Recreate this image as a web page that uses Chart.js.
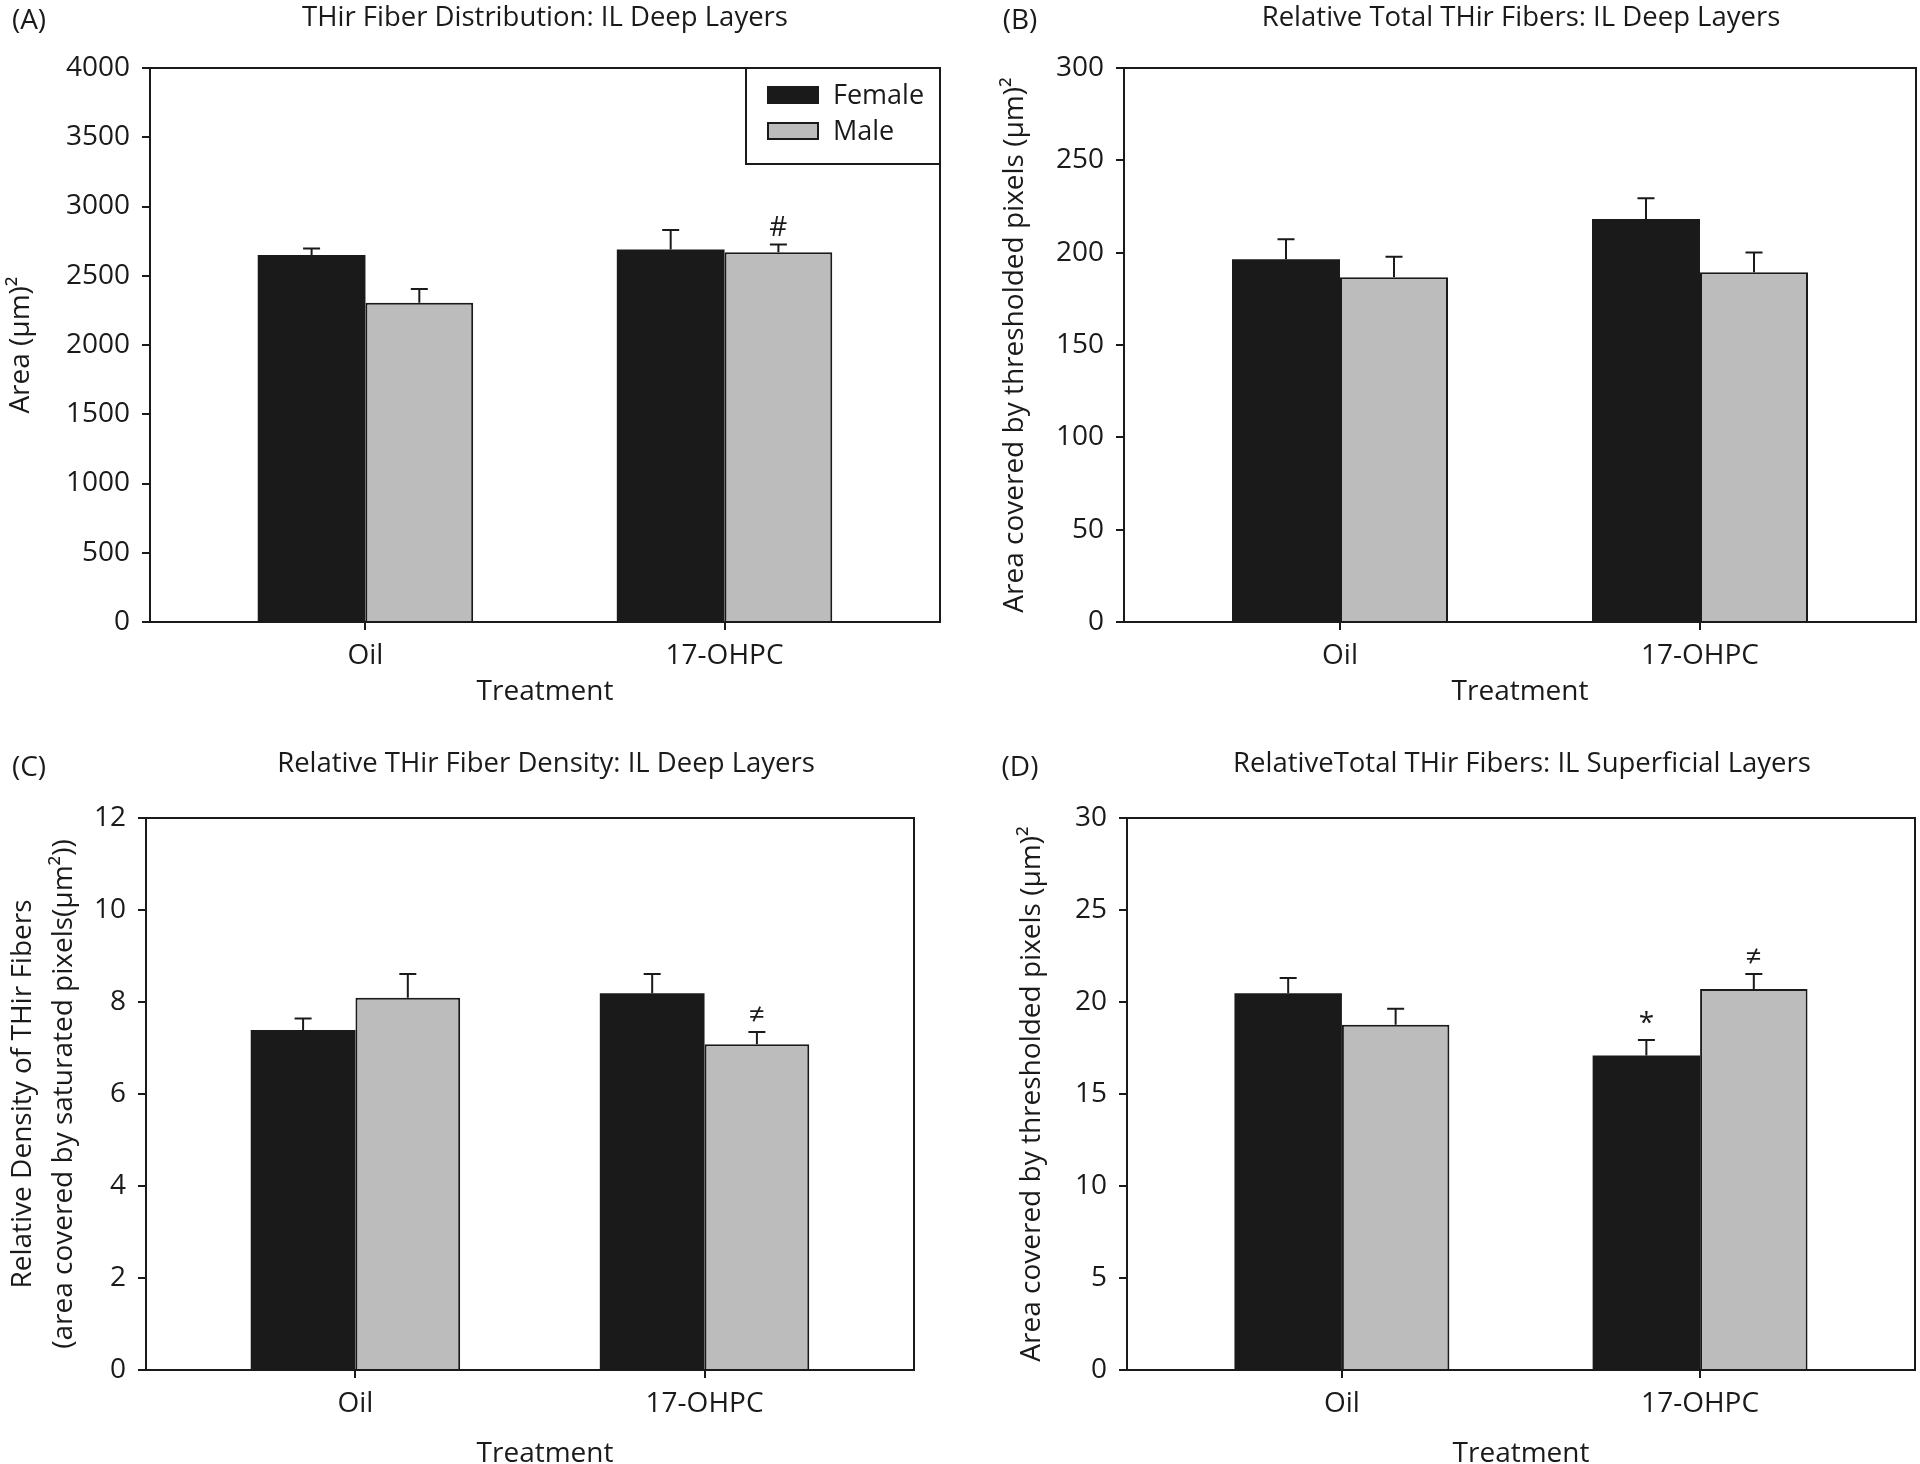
<!DOCTYPE html>
<html>
<head>
<meta charset="utf-8">
<title>THir fibers: IL layers</title>
<script src="https://cdn.jsdelivr.net/npm/chart.js@4.4.1/dist/chart.umd.min.js"></script>
<style>
  html, body { margin: 0; padding: 0; background: #fff; }
  body { width: 1920px; height: 1464px; position: relative; overflow: hidden; }
  canvas { position: absolute; }
  #chartA { left: 0; top: 0; }
  #chartB { left: 960px; top: 0; }
  #chartC { left: 0; top: 730px; }
  #chartD { left: 960px; top: 730px; }
</style>
</head>
<body>
<canvas id="chartA" width="960" height="730"></canvas>
<canvas id="chartB" width="960" height="730"></canvas>
<canvas id="chartC" width="960" height="760"></canvas>
<canvas id="chartD" width="960" height="760"></canvas>
<script>
// --- data (mean, SEM) ---
const treatments = ['Oil', '17-OHPC'];
const groups = ['Female', 'Male'];

// (A) THir fiber distribution, IL deep layers
const distFemale = [2650, 2690];
const distFemaleErr = [47, 140];
const distMale = [2305, 2670];
const distMaleErr = [100, 56];
const distTicks = [0, 500, 1000, 1500, 2000, 2500, 3000, 3500, 4000];

// (B) relative total THir fibers, IL deep layers
const deepFemale = [196.5, 218.2];
const deepFemaleErr = [10.7, 11.2];
const deepMale = [186.7, 189.4];
const deepMaleErr = [11.1, 10.7];
const deepTicks = [0, 50, 100, 150, 200, 250, 300];

// (C) relative THir fiber density, IL deep layers
const densFemale = [7.39, 8.19];
const densFemaleErr = [0.25, 0.42];
const densMale = [8.09, 7.08];
const densMaleErr = [0.52, 0.27];
const densTicks = [0, 2, 4, 6, 8, 10, 12];

// (D) relative total THir fibers, IL superficial layers
const supFemale = [20.47, 17.09];
const supFemaleErr = [0.84, 0.85];
const supMale = [18.77, 20.70];
const supMaleErr = [0.86, 0.82];
const supTicks = [0, 5, 10, 15, 20, 25, 30];

// significance marks above bars
const distMarks = [['', ''], ['', '#']];
const deepMarks = [['', ''], ['', '']];
const densMarks = [['', ''], ['', '\u2260']];
const supMarks = [['', '*'], ['', '\u2260']];

const INK = '#1a1a1a';
const FEMALE_FILL = '#1a1a1a';
const MALE_FILL = '#bcbcbc';
const FONT = '"Open Sans", "DejaVu Sans", sans-serif';

// error bars, frame, panel letter, title, marks and (optional) legend
const panelDecor = {
  id: 'panelDecor',
  afterDatasetsDraw(chart, args, opts) {
    const ctx = chart.ctx;
    const yScale = chart.scales.y;
    const a = chart.chartArea;
    ctx.save();
    ctx.strokeStyle = INK;
    ctx.fillStyle = INK;
    ctx.lineWidth = 2;

    chart.data.datasets.forEach((ds, di) => {
      const meta = chart.getDatasetMeta(di);
      meta.data.forEach((bar, i) => {
        const top = yScale.getPixelForValue(ds.data[i].y + opts.errors[di][i]);
        ctx.beginPath();
        ctx.moveTo(bar.x, bar.y);
        ctx.lineTo(bar.x, top);
        ctx.moveTo(bar.x - 8.5, top);
        ctx.lineTo(bar.x + 8.5, top);
        ctx.stroke();
        const mark = opts.marks[di][i];
        if (mark) {
          ctx.font = '28px ' + FONT;
          ctx.textAlign = 'center';
          ctx.textBaseline = 'bottom';
          ctx.fillText(mark, bar.x, top - 2);
        }
      });
    });

    // frame around the plot
    ctx.strokeRect(a.left, a.top, a.right - a.left, a.bottom - a.top);

    // legend box in the top right corner
    if (opts.legend) {
      ctx.strokeRect(a.right - 194, a.top, 194, 96);
      chart.data.datasets.forEach((ds, di) => {
        const sy = a.top + 19 + di * 36;
        ctx.fillStyle = ds.backgroundColor;
        ctx.fillRect(a.right - 172, sy, 50, 16);
        ctx.strokeRect(a.right - 172, sy, 50, 16);
        ctx.fillStyle = INK;
        ctx.font = '27px ' + FONT;
        ctx.textAlign = 'left';
        ctx.textBaseline = 'middle';
        ctx.fillText(ds.label, a.right - 107, sy + 9);
      });
    }

    // panel letter and title
    ctx.fillStyle = INK;
    ctx.textBaseline = 'middle';
    ctx.textAlign = 'center';
    ctx.font = '28px ' + FONT;
    ctx.fillText(opts.letter, opts.letterX, opts.letterY);
    ctx.font = '27.5px ' + FONT;
    ctx.fillText(opts.title, opts.titleX, opts.titleY);

    // x-axis title placed off the plot centre (panel C)
    if (opts.xTitleX) {
      const xs = chart.scales.x;
      ctx.font = '28px ' + FONT;
      ctx.fillText('Treatment', opts.xTitleX, xs.bottom - 16.8);
    }
    ctx.restore();
  }
};

function makePanel(id, cfg) {
  const tickFont = { family: FONT, size: 28 };
  new Chart(document.getElementById(id), {
    type: 'bar',
    data: {
      datasets: [
        {
          label: groups[0],
          data: cfg.female.map((v, i) => ({ x: i, y: v })),
          backgroundColor: FEMALE_FILL,
          borderColor: INK,
          borderWidth: 0
        },
        {
          label: groups[1],
          data: cfg.male.map((v, i) => ({ x: i, y: v })),
          backgroundColor: MALE_FILL,
          borderColor: INK,
          borderWidth: 2
        }
      ]
    },
    options: {
      responsive: false,
      animation: false,
      events: [],
      layout: { padding: cfg.padding },
      datasets: { bar: { categoryPercentage: 0.6, barPercentage: 1.0 } },
      scales: {
        x: {
          type: 'linear',
          min: -0.6,
          max: 1.6,
          offset: false,
          afterBuildTicks: s => { s.ticks = treatments.map((_, i) => ({ value: i })); },
          afterFit: s => { s.height = cfg.xHeight; },
          ticks: {
            callback: v => treatments[v],
            font: tickFont,
            color: INK,
            padding: 9,
            maxRotation: 0,
            autoSkip: false
          },
          grid: { offset: false, drawOnChartArea: false, tickLength: 8, color: INK, lineWidth: 2 },
          border: { display: false },
          title: {
            display: !cfg.xTitleX,
            text: 'Treatment',
            font: tickFont,
            color: INK,
            padding: { top: 0, bottom: 0 }
          }
        },
        y: {
          min: 0,
          max: cfg.ticks[cfg.ticks.length - 1],
          afterBuildTicks: s => { s.ticks = cfg.ticks.map(v => ({ value: v })); },
          afterFit: s => { s.width = cfg.yWidth; },
          ticks: { font: tickFont, color: INK, padding: 12, callback: v => String(v) },
          grid: { drawOnChartArea: false, tickLength: 8, color: INK, lineWidth: 2 },
          border: { display: false },
          title: {
            display: true,
            text: cfg.yTitle,
            font: { family: FONT, size: 28, lineHeight: cfg.yLineHeight || 1.2 },
            color: INK,
            padding: { top: cfg.yTitlePad, bottom: 0 }
          }
        }
      },
      plugins: {
        legend: { display: false },
        tooltip: { enabled: false },
        panelDecor: {
          errors: [cfg.femaleErr, cfg.maleErr],
          marks: cfg.marks,
          legend: !!cfg.legend,
          letter: cfg.letter,
          letterX: cfg.letterX,
          letterY: cfg.letterY,
          title: cfg.title,
          titleX: cfg.titleX,
          titleY: cfg.titleY,
          xTitleX: cfg.xTitleX || 0
        }
      }
    },
    plugins: [panelDecor]
  });
}

function drawAll() {
  makePanel('chartA', {
    female: distFemale, femaleErr: distFemaleErr,
    male: distMale, maleErr: distMaleErr,
    ticks: distTicks, marks: distMarks, legend: true,
    padding: { top: 68, right: 20, bottom: 21, left: 0 },
    yWidth: 150, xHeight: 87,
    yTitle: 'Area (\u03bcm)\u00b2', yTitlePad: 4,
    letter: '(A)', letterX: 29, letterY: 21,
    title: 'THir Fiber Distribution: IL Deep Layers', titleX: 545, titleY: 18
  });
  makePanel('chartB', {
    female: deepFemale, femaleErr: deepFemaleErr,
    male: deepMale, maleErr: deepMaleErr,
    ticks: deepTicks, marks: deepMarks,
    padding: { top: 68, right: 4, bottom: 21, left: 0 },
    yWidth: 164, xHeight: 87,
    yTitle: 'Area covered by thresholded pixels (\u03bcm)\u00b2', yTitlePad: 38,
    letter: '(B)', letterX: 60, letterY: 21,
    title: 'Relative Total THir Fibers: IL Deep Layers', titleX: 561, titleY: 18
  });
  makePanel('chartC', {
    female: densFemale, femaleErr: densFemaleErr,
    male: densMale, maleErr: densMaleErr,
    ticks: densTicks, marks: densMarks,
    padding: { top: 88, right: 46, bottom: 19, left: 0 },
    yWidth: 146, xHeight: 101, xTitleX: 545,
    yTitle: ['Relative Density of THir Fibers', '(area covered by saturated pixels(\u03bcm\u00b2))'],
    yLineHeight: 1.46, yTitlePad: 3,
    letter: '(C)', letterX: 29, letterY: 38,
    title: 'Relative THir Fiber Density: IL Deep Layers', titleX: 546, titleY: 34
  });
  makePanel('chartD', {
    female: supFemale, femaleErr: supFemaleErr,
    male: supMale, maleErr: supMaleErr,
    ticks: supTicks, marks: supMarks,
    padding: { top: 88, right: 5, bottom: 19, left: 0 },
    yWidth: 167, xHeight: 101,
    yTitle: 'Area covered by thresholded pixels (\u03bcm)\u00b2', yTitlePad: 55,
    letter: '(D)', letterX: 60, letterY: 38,
    title: 'RelativeTotal THir Fibers: IL Superficial Layers', titleX: 562, titleY: 34
  });
}

document.fonts.load('28px "Open Sans"').then(drawAll, drawAll);
</script>
</body>
</html>
